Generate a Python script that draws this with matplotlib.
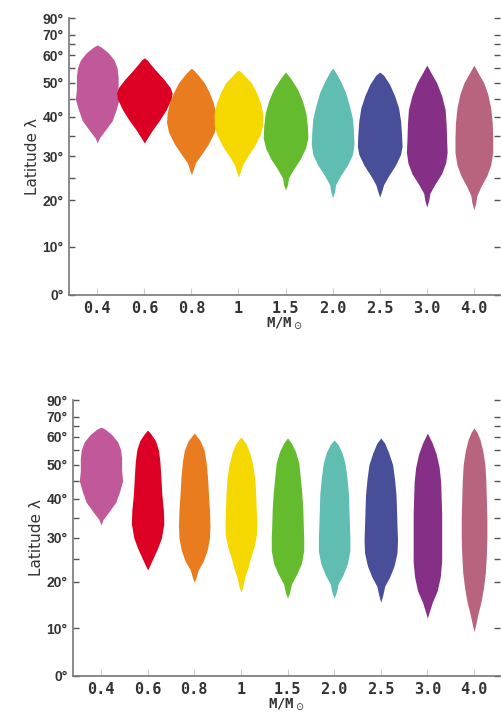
import matplotlib
matplotlib.use("Agg")
import matplotlib.pyplot as plt
import numpy as np

# categories (stellar mass)
masses = ["0.4", "0.6", "0.8", "1", "1.5", "2.0", "2.5", "3.0", "4.0"]
colors = ["#c0589a", "#dc0024", "#e87c1e", "#f5d800", "#64bb2e",
          "#5fbdb2", "#484e98", "#862f86", "#b9647e"]

# latitude knots (deg) and relative density of each violin -- upper panel
top_lat = [
    [33.3, 34.5, 36.5, 39, 42, 45, 48, 52, 55, 58, 61, 63.5, 64.5],
    [33.3, 34.5, 36.5, 39, 42, 45, 46.8, 48.5, 51, 54, 56.5, 58, 58.9],
    [25.7, 27, 28.5, 30.5, 33, 36, 38.5, 41, 44, 47, 50, 52.5, 54, 55],
    [25.2, 26.5, 28, 30, 32.5, 35.5, 38, 41, 44, 47, 50, 52, 53.5, 54.3],
    [22.3, 23.5, 25, 27, 29.5, 32, 34.5, 37.5, 41, 44.5, 48, 51, 52.8, 53.6],
    [20.5, 22, 23.5, 25.5, 28, 30.5, 33, 36, 39.5, 43, 47, 50.5, 53.5, 55],
    [20.7, 22, 23.5, 25.5, 28, 30.5, 32.5, 35.5, 39, 42.5, 46, 49.5, 52.5, 53.6],
    [18.5, 20, 21.5, 23.5, 26, 28.5, 31, 34, 38, 42, 46, 50, 53.5, 56.1],
    [17.9, 19.5, 21, 23, 25.5, 28, 31, 34.5, 38.5, 42.5, 46.5, 50, 53.5, 56.1],
]
top_dens = [
    [0, 2, 8, 15, 19, 22, 21, 21, 20, 17, 11, 4, 0],
    [0, 3, 8, 15, 22, 27, 28, 26, 20, 12, 6, 3, 0],
    [0, 2, 4, 10, 17, 23, 25, 24.5, 22, 18, 13, 7, 3, 0],
    [0, 2, 4, 9, 16, 22, 24.5, 24.5, 22, 18, 13, 7, 3, 0],
    [0, 2, 3, 8, 15, 20, 22.5, 22, 20.5, 17, 12, 6, 2, 0],
    [0, 2, 3, 8, 15, 20, 21.5, 21, 20, 17, 13, 8, 3, 0],
    [0, 2, 4, 9, 16, 21, 22.5, 22, 21, 19, 15, 10, 4, 0],
    [0, 2, 3, 8, 15, 19, 20.5, 20, 19.5, 18.5, 15, 10, 4, 0],
    [0, 2, 3, 7, 13, 17, 19, 19, 18.5, 17, 14, 10, 4, 0],
]

# lower panel
bot_lat = [
    [33.2, 34.5, 36.5, 39, 42, 45, 48, 52, 55, 58, 61, 63.5, 64.4],
    [22.6, 24, 25.5, 27.5, 30, 33.5, 37, 41, 46, 51, 55, 58.5, 61.5, 63],
    [19.9, 21, 22.6, 24.5, 27, 30, 33, 37, 41, 46, 51, 55, 58.5, 61.7],
    [17.7, 19, 21, 23, 25.5, 28, 31, 34.5, 38, 42, 46, 50, 54, 57.5, 60],
    [16.4, 17.5, 19.5, 21.5, 24, 27, 30, 33.5, 37.5, 41.5, 46, 50.5, 54.5, 57.5, 59.6],
    [16.4, 17.5, 19.5, 21.5, 24, 27, 30, 33.5, 37.5, 41.5, 46, 50.5, 54, 57, 58.8],
    [15.5, 17, 19, 21, 23.5, 26.5, 29.5, 33, 37, 41, 45.5, 50, 54, 57.5, 59.6],
    [12.1, 13.5, 15.5, 18, 21, 24.5, 28, 32, 36, 40, 44.5, 49, 53.5, 57.5, 61.7],
    [9.2, 11, 13, 15.5, 18.5, 22, 26, 30, 35, 40, 45, 50, 54.5, 59, 62, 64],
]
bot_dens = [
    [0, 2, 8, 15, 19, 22, 21, 21, 20, 17, 11, 4, 0],
    [0, 3, 6, 10, 14, 16.5, 16, 14.5, 13.5, 12.5, 11, 8, 3, 0],
    [0, 2, 4, 9, 13, 15.5, 16, 15.5, 14.5, 13.5, 12, 10, 6, 0],
    [0, 2, 4, 7, 10, 13.5, 16, 16, 15.5, 15, 14, 12, 9, 5, 0],
    [0, 2, 4, 9, 14, 16.5, 16.5, 16, 15.5, 14.5, 13, 11.5, 8, 4, 0],
    [0, 2, 4, 9, 13.5, 16, 16, 15.5, 15, 14.5, 13, 11, 8, 4, 0],
    [0, 2, 4, 9, 13.5, 16.5, 17, 16.5, 16, 15.5, 14, 12, 8, 4, 0],
    [0, 2, 5, 10, 13, 14.5, 14.5, 14.5, 14.5, 14, 13.5, 12, 9, 5, 0],
    [0, 2, 4, 7, 9.5, 11.5, 12.5, 13, 13, 12.5, 12, 11, 9, 6, 3, 0],
]

lat_ticks = [0, 10, 20, 30, 40, 50, 60, 70, 90]
lat_minor = [25, 35, 45, 55, 65]


def fwd(v):
    return np.sin(np.radians(v))


def inv(v):
    return np.degrees(np.arcsin(np.clip(v, -1, 1)))


def panel(ax, lats, dens):
    scale = 1 / 47.4
    for i, (la, de) in enumerate(zip(lats, dens)):
        la = np.array(la)
        de = np.array(de) * scale
        ax.fill_betweenx(la, i - de, i + de, color=colors[i], lw=0)
    ax.set_yscale('function', functions=(fwd, inv))
    ax.set_ylim(0, 90)
    ax.set_xlim(-0.6, 8.55)
    ax.set_yticks(lat_ticks)
    ax.set_yticks(lat_minor, minor=True)
    ax.set_yticklabels([f"{t}°" for t in lat_ticks], fontsize=10,
                       fontweight='bold', color='#333333', family='Liberation Sans')
    ax.set_xticks(range(len(masses)))
    ax.set_xticklabels(masses, fontsize=11, fontweight='bold',
                       family='DejaVu Sans Mono', color='#333333')
    ax.tick_params(axis='y', which='both', direction='in', right=True,
                   length=4, width=1, color='#555555', pad=4)
    ax.tick_params(axis='x', direction='in', length=5, color='#cccccc', pad=4)
    ax.spines['top'].set_visible(False)
    ax.spines['right'].set_visible(False)
    for s in ['left', 'bottom']:
        ax.spines[s].set_color('#777777')
        ax.spines[s].set_linewidth(1.2)
    ax.set_ylabel("Latitude λ", fontsize=11, color='#333333', labelpad=2)
    ax.set_xlabel(r"M/M$_\odot$", fontsize=10, fontweight='bold',
                  family='DejaVu Sans Mono', color='#333333', labelpad=0)


fig = plt.figure(figsize=(5.02, 7.12), dpi=100)
ax1 = fig.add_axes([0.1375, 0.5857, 0.858, 0.389])
ax2 = fig.add_axes([0.1454, 0.0506, 0.850, 0.3876])
panel(ax1, top_lat, top_dens)
panel(ax2, bot_lat, bot_dens)

fig.savefig("out.png", dpi=100)
